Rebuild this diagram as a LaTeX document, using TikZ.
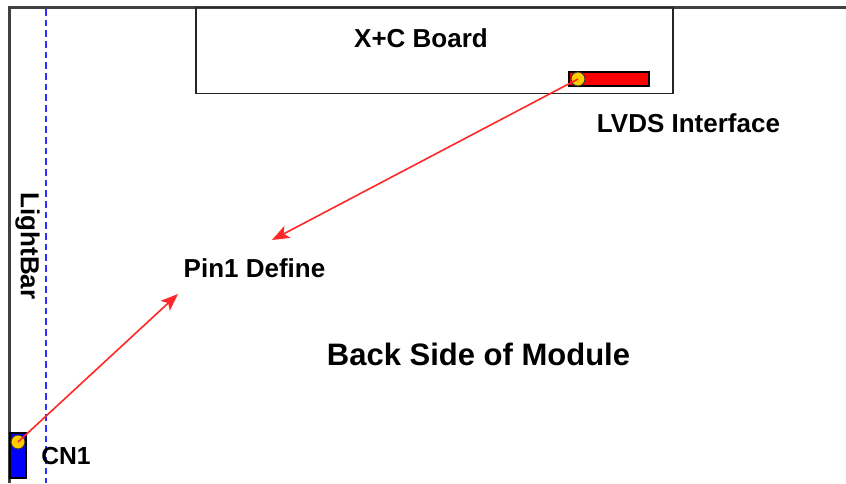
\documentclass[tikz,border=0pt]{standalone}
\usepackage{fontspec}
\setmainfont{Liberation Sans}
\usetikzlibrary{arrows.meta}
\definecolor{framegray}{HTML}{404040}
\definecolor{lineblue}{HTML}{2E2EFF}
\definecolor{arrowred}{HTML}{FF2828}
\definecolor{pinyellow}{HTML}{FFCC00}
\tikzset{
  label text/.style={font=\bfseries\fontsize{19.5}{22}\selectfont, inner sep=0pt, anchor=base},
  pointer/.style={draw=arrowred, line width=1.2pt, -{Stealth[length=13pt,width=10pt,inset=3pt]}},
  pin dot/.style={circle, draw=black!80, line width=0.7pt, fill=pinyellow, minimum size=10.5pt, inner sep=0pt},
}
\begin{document}
\begin{tikzpicture}[x=0.75pt, y=-0.75pt]
  \useasboundingbox[fill=white] (0,0) rectangle (846,483);

  % module outline (left and top edges)
  \draw[framegray, line width=1.6pt] (9.5,483) -- (9.5,7.5) -- (846,7.5);

  % light bar position
  \draw[lineblue, line width=1.2pt, dash pattern=on 5pt off 3pt] (46,9) -- (46,483);
  \node[label text, rotate=-90] (lightbar) at (21,246) {LightBar};

  % X+C board with LVDS connector
  \node[draw=black!85, line width=1.1pt, minimum width=357.75pt, minimum height=64.5pt, inner sep=0pt] (board) at (434.5,50.5) {};
  \node[label text] (boardlabel) at (421,47) {X+C Board};
  \node[draw=black, line width=1pt, fill=red, minimum width=60pt, minimum height=10.5pt, inner sep=0pt] (lvds) at (609,79) {};
  \node[pin dot] (lvdspin) at (578,79) {};
  \node[label text] (lvdslabel) at (688.5,132) {LVDS Interface};

  % CN1 connector
  \node[draw=black, line width=1pt, fill=blue, minimum width=12pt, minimum height=33.75pt, inner sep=0pt] (cn1) at (18,455.5) {};
  \node[pin dot] (cn1pin) at (18,442) {};
  \node[label text, font=\bfseries\fontsize{18.5}{22}\selectfont] (cn1label) at (66,464) {CN1};

  % pin 1 callout
  \node[label text] (pinlabel) at (254.5,277) {Pin1 Define};
  \coordinate (tipA) at (272,240);
  \coordinate (tipB) at (178,294);
  \draw[pointer] (lvdspin.center) -- (tipA);
  \draw[pointer] (cn1pin.center) -- (tipB);

  \node[label text, font=\bfseries\fontsize{23.25}{26}\selectfont] (title) at (478.5,365) {Back Side of Module};
\end{tikzpicture}
\end{document}
